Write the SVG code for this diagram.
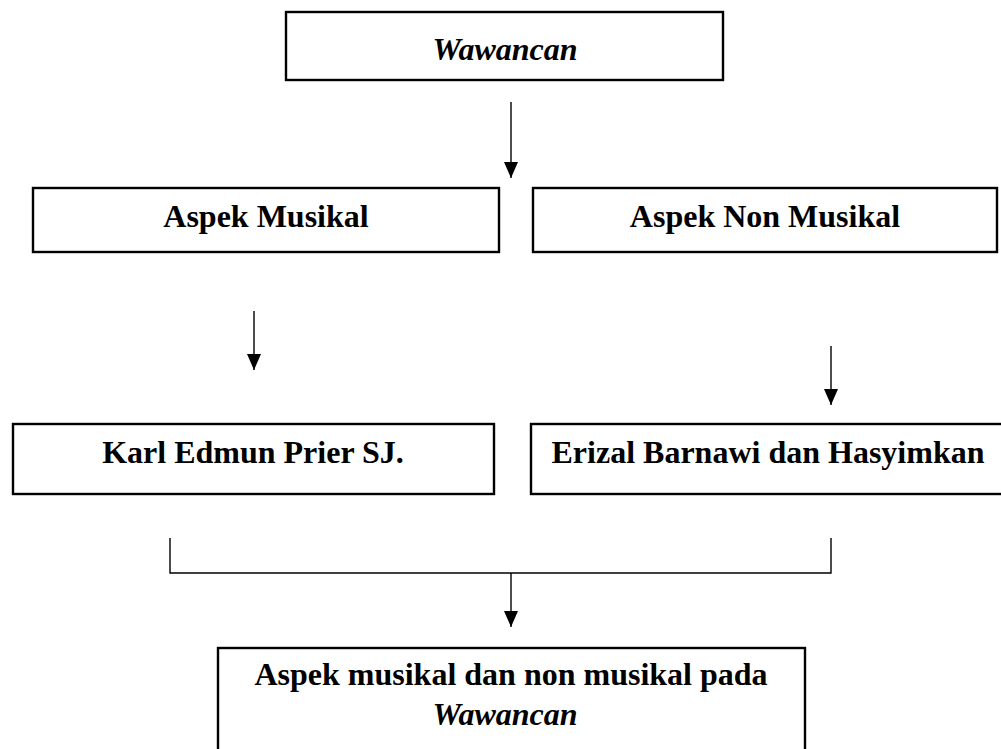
<svg xmlns="http://www.w3.org/2000/svg" width="1001" height="749" viewBox="0 0 1001 749">
<style>
.box{fill:#fff;stroke:#000;stroke-width:2.4}
.t{font-family:"Liberation Serif","Times New Roman",serif;font-size:32px;font-weight:bold;text-anchor:middle;fill:#000}
.i{font-style:italic}
.c{fill:none;stroke:#000;stroke-width:1.4}
</style>
<defs>
<marker id="ah" markerUnits="userSpaceOnUse" markerWidth="18" markerHeight="16" refX="16" refY="7" orient="auto">
<path d="M0,0 L16,7 L0,14 Z" fill="#000"/>
</marker>
</defs>
<rect width="1001" height="749" fill="#fff"/>
<g id="n-wawancan">
<rect class="box" x="286" y="12" width="437" height="68"/>
<text class="t i" x="505" y="60">Wawancan</text>
</g>
<g id="n-musikal">
<rect class="box" x="33" y="188" width="466" height="64"/>
<text class="t" x="266" y="227">Aspek Musikal</text>
</g>
<g id="n-nonmusikal">
<rect class="box" x="533" y="188" width="464" height="64"/>
<text class="t" x="765" y="227">Aspek Non Musikal</text>
</g>
<g id="n-karl">
<rect class="box" x="13" y="424" width="481" height="70"/>
<text class="t" x="253" y="463">Karl Edmun Prier SJ.</text>
</g>
<g id="n-erizal">
<rect class="box" x="531" y="424" width="475" height="70"/>
<text class="t" x="768" y="463">Erizal Barnawi dan Hasyimkan</text>
</g>
<g id="n-hasil">
<rect class="box" x="218" y="648" width="587" height="120"/>
<text class="t" x="511" y="685">Aspek musikal dan non musikal pada</text>
<text class="t i" x="505" y="725" font-weight="normal">Wawancan</text>
</g>
<g id="connectors">
<line class="c" x1="511" y1="102" x2="511" y2="178" marker-end="url(#ah)"/>
<line class="c" x1="254" y1="311" x2="254" y2="370" marker-end="url(#ah)"/>
<line class="c" x1="831" y1="346" x2="831" y2="405" marker-end="url(#ah)"/>
<polyline class="c" points="170,538 170,573 831,573 831,538"/>
<line class="c" x1="511" y1="573" x2="511" y2="627" marker-end="url(#ah)"/>
</g>
</svg>
